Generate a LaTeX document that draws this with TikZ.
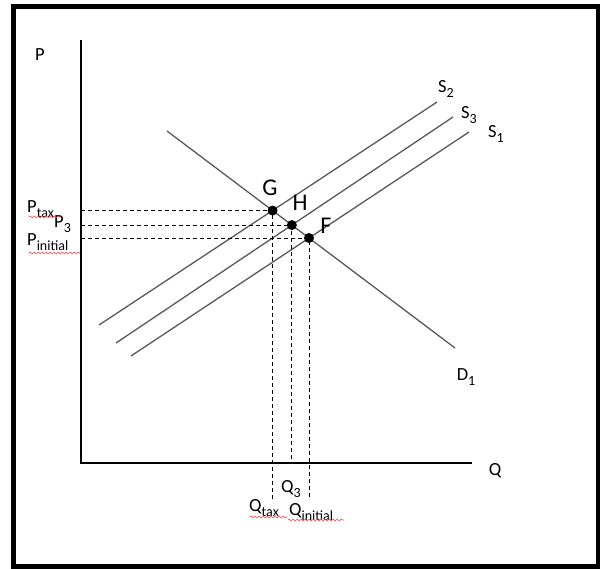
\documentclass[tikz,border=0pt]{standalone}
\usepackage{fontspec}
\setmainfont{Carlito}
\usetikzlibrary{decorations.pathmorphing}
\newcommand{\mysub}[1]{\raisebox{-0.3em}{\fontsize{14}{14}\selectfont #1}}
\begin{document}
\begin{tikzpicture}[x=1pt,y=-1pt,
  lbl/.style={inner sep=0pt,font=\fontsize{18.5}{18.5}\selectfont},
  big/.style={inner sep=0pt,font=\fontsize{24}{24}\selectfont},
  curve/.style={draw=black!65,line width=1.3pt},
  guide/.style={draw=black,line width=0.9pt,dash pattern=on 4pt off 3pt},
  axis/.style={draw=black,line width=2.5pt},
  dot/.style={circle,fill=black,inner sep=0pt,minimum size=10pt},
  squig/.style={draw=red!75,line width=0.6pt,decorate,decoration={snake,segment length=4pt,amplitude=1pt}}]
\useasboundingbox (0,0) rectangle (600,568);
\draw[line width=5pt] (13.5,6.5) rectangle (598,566.5);
% axes
\coordinate (O) at (81,463);
\coordinate (Ptop) at (81,40);
\coordinate (Qend) at (472,463);
\draw[axis] (Ptop) -- (O) -- (Qend);
% curves
\coordinate (s2a) at (99,325);  \coordinate (s2b) at (437,102);
\coordinate (s3a) at (116,343); \coordinate (s3b) at (453,117);
\coordinate (s1a) at (131,356); \coordinate (s1b) at (469,132);
\coordinate (da) at (167,131);  \coordinate (db) at (455,348);
\draw[curve] (s2a) -- (s2b);
\draw[curve] (s3a) -- (s3b);
\draw[curve] (s1a) -- (s1b);
\draw[curve] (da) -- (db);
% intersections
\coordinate (G) at (intersection of s2a--s2b and da--db);
\coordinate (H) at (intersection of s3a--s3b and da--db);
\coordinate (F) at (intersection of s1a--s1b and da--db);
% guides
\coordinate (Gx) at (G |- 0,501);
\coordinate (Fx) at (F |- 0,497);
\draw[guide] (O |- G) -- (G) -- (Gx);
\draw[guide] (O |- H) -- (H) -- (H |- O);
\draw[guide] (O |- F) -- (F) -- (Fx);
\node[dot] (Gd) at (G) {};
\node[dot] (Hd) at (H) {};
\node[dot] (Fd) at (F) {};
% labels
\node[lbl] (lP) at (40,55) {P};
\node[lbl] (lQ) at (495,471) {Q};
\node[lbl] (lD) at (466,377) {D\mysub{1}};
\node[lbl] (lS2) at (446,89) {S\mysub{2}};
\node[lbl] (lS3) at (469,115) {S\mysub{3}};
\node[lbl] (lS1) at (496,134) {S\mysub{1}};
\node[lbl,anchor=west] (lPtax) at (27,209) {P\mysub{tax}};
\node[lbl,anchor=west] (lP3) at (54,224) {P\mysub{3}};
\node[lbl,anchor=west] (lPin) at (27,242) {P\mysub{initial}};
\node[lbl] (lQ3) at (291,489) {Q\mysub{3}};
\node[lbl,anchor=west] (lQtax) at (249,508) {Q\mysub{tax}};
\node[lbl,anchor=west] (lQin) at (289,512) {Q\mysub{initial}};
\node[big] (lG) at (270,188) {G};
\node[big] (lH) at (300,203) {H};
\node[big] (lF) at (326,226) {F};
% spell-check squiggles
\draw[squig] (29,217) -- (60,217);
\draw[squig] (29,253) -- (80,253);
\draw[squig] (250,517) -- (287,517);
\draw[squig] (288,520) -- (344,520);
\end{tikzpicture}
\end{document}
